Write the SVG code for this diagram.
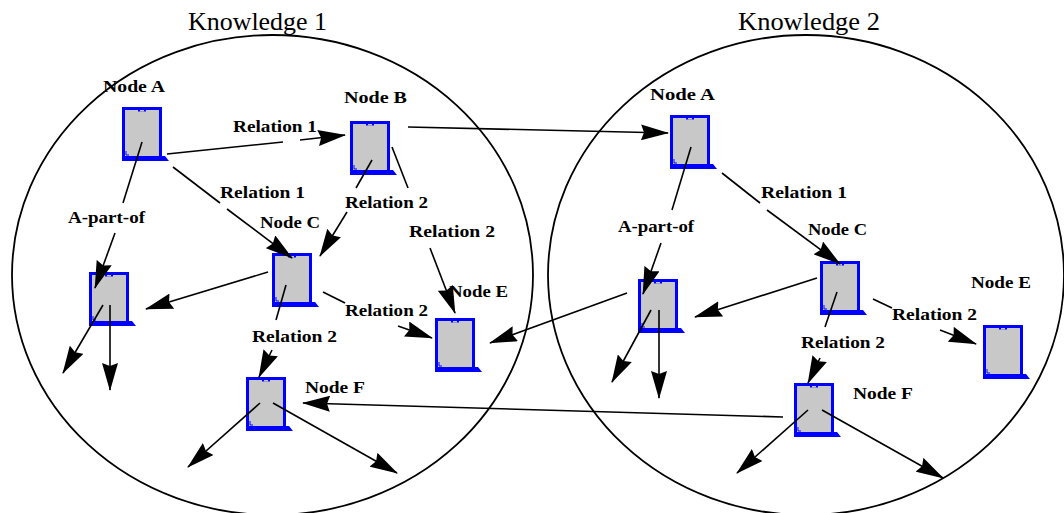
<svg xmlns="http://www.w3.org/2000/svg" xmlns:xlink="http://www.w3.org/1999/xlink" width="1064" height="513" viewBox="0 0 1064 513">
<style>
.bg{fill:#ffffff}
.circle{fill:none;stroke:#000;stroke-width:1.8}
.title{font-family:"Liberation Serif",serif;font-size:26px;fill:#000}
.lbl{font-family:"Liberation Serif",serif;font-size:17px;font-weight:bold;fill:#000}
.ln{fill:none;stroke:#000;stroke-width:1.6}
.ar{fill:none;stroke:#000;stroke-width:1.6;marker-end:url(#ah)}
</style>
<defs>
<marker id="ah" viewBox="0 0 28 16" markerUnits="userSpaceOnUse" markerWidth="28" markerHeight="16" refX="27" refY="8" orient="auto">
<path d="M0,0 L28,8 L0,16 L3,8 Z" fill="#000"/>
</marker>
<symbol id="icon" viewBox="0 0 48 56" width="48" height="56" overflow="visible">
<rect x="1.5" y="1.5" width="37" height="49" fill="#c8c8c8" stroke="#0000ff" stroke-width="3"/>
<rect x="16" y="1" width="8" height="3.5" fill="#0000ff"/>
<rect x="18" y="3" width="4" height="1.5" fill="#c8c8c8"/>
<path d="M0,49 L43,49 L47,54 L0,54 Z" fill="#0000ff"/>
<path d="M4,44 L4,48 L7,48" fill="none" stroke="#0000ff" stroke-width="1"/>
</symbol>
</defs>
<rect class="bg" x="0" y="0" width="1064" height="513"/>
<g id="knowledge1">
<ellipse class="circle" cx="272.5" cy="275" rx="260.5" ry="240"/>
<text class="title" x="188" y="30" textLength="139" lengthAdjust="spacingAndGlyphs">Knowledge 1</text>
</g>
<g id="knowledge2">
<ellipse class="circle" cx="806" cy="275" rx="258" ry="240"/>
<text class="title" x="738" y="30" textLength="142" lengthAdjust="spacingAndGlyphs">Knowledge 2</text>
</g>
<g id="k1-nodeA"><use xlink:href="#icon" x="122" y="107"/><text class="lbl" x="103" y="92" textLength="62" lengthAdjust="spacingAndGlyphs">Node A</text></g>
<g id="k1-nodeB"><use xlink:href="#icon" x="350" y="121"/><text class="lbl" x="344" y="103" textLength="63" lengthAdjust="spacingAndGlyphs">Node B</text></g>
<g id="k1-nodeC"><use xlink:href="#icon" x="272" y="253"/><text class="lbl" x="260" y="228" textLength="60" lengthAdjust="spacingAndGlyphs">Node C</text></g>
<g id="k1-nodeD"><use xlink:href="#icon" x="89" y="272"/></g>
<g id="k1-nodeE"><use xlink:href="#icon" x="435" y="318"/><text class="lbl" x="449" y="297" textLength="59" lengthAdjust="spacingAndGlyphs">Node E</text></g>
<g id="k1-nodeF"><use xlink:href="#icon" x="246" y="377"/><text class="lbl" x="305" y="393" textLength="60" lengthAdjust="spacingAndGlyphs">Node F</text></g>
<g id="k2-nodeA"><use xlink:href="#icon" x="670" y="115"/><text class="lbl" x="650" y="100" textLength="65" lengthAdjust="spacingAndGlyphs">Node A</text></g>
<g id="k2-nodeC"><use xlink:href="#icon" x="820" y="261"/><text class="lbl" x="808" y="235" textLength="59" lengthAdjust="spacingAndGlyphs">Node C</text></g>
<g id="k2-nodeD"><use xlink:href="#icon" x="638" y="279"/></g>
<g id="k2-nodeE"><use xlink:href="#icon" x="983" y="325"/><text class="lbl" x="971" y="288" textLength="60" lengthAdjust="spacingAndGlyphs">Node E</text></g>
<g id="k2-nodeF"><use xlink:href="#icon" x="794" y="383"/><text class="lbl" x="853" y="399" textLength="60" lengthAdjust="spacingAndGlyphs">Node F</text></g>
<g id="connectors">
<path class="ln" d="M167,154 L283,142"/><path class="ar" d="M300,140 L345,135"/>
<path class="ln" d="M173,167 L220,203"/><path class="ar" d="M227,209 L292,258"/>
<path class="ln" d="M142,142 L123,203"/><path class="ar" d="M115,233 L95,288"/>
<path class="ln" d="M372,160 L356,188"/><path class="ar" d="M347,212 L320,256"/>
<path class="ln" d="M392,147 L408,188"/><path class="ar" d="M430,248 L455,313"/>
<path class="ar" d="M268,272 L146,309"/>
<path class="ln" d="M323,292 L345,303"/><path class="ar" d="M398,326 L432,338"/>
<path class="ln" d="M286,285 L276,320"/><path class="ar" d="M272,350 L259,377"/>
<path class="ar" d="M103,305 L63,373"/>
<path class="ar" d="M110,305 L110,390"/>
<path class="ar" d="M260,403 L188,467"/>
<path class="ar" d="M273,403 L397,473"/>
<path class="ar" d="M408,127 L668,133"/>
<path class="ar" d="M627,293 L490,343"/>
<path class="ar" d="M783,417 L303,403"/>
<path class="ln" d="M722,173 L760,203"/><path class="ar" d="M767,210 L840,264"/>
<path class="ln" d="M691,147 L672,210"/><path class="ar" d="M661,243 L643,294"/>
<path class="ar" d="M817,278 L695,317"/>
<path class="ln" d="M873,299 L892,308"/><path class="ar" d="M940,330 L976,344"/>
<path class="ln" d="M837,292 L825,327"/><path class="ar" d="M820,358 L808,383"/>
<path class="ar" d="M651,310 L612,382"/>
<path class="ar" d="M659,310 L659,398"/>
<path class="ar" d="M808,410 L737,473"/>
<path class="ar" d="M822,410 L943,478"/>
</g>
<g id="edge-labels">
<text class="lbl" x="233" y="132" textLength="84" lengthAdjust="spacingAndGlyphs">Relation 1</text>
<text class="lbl" x="220" y="198" textLength="85" lengthAdjust="spacingAndGlyphs">Relation 1</text>
<text class="lbl" x="68" y="223" textLength="77" lengthAdjust="spacingAndGlyphs">A-part-of</text>
<text class="lbl" x="345" y="208" textLength="83" lengthAdjust="spacingAndGlyphs">Relation 2</text>
<text class="lbl" x="409" y="237" textLength="86" lengthAdjust="spacingAndGlyphs">Relation 2</text>
<text class="lbl" x="345" y="316" textLength="83" lengthAdjust="spacingAndGlyphs">Relation 2</text>
<text class="lbl" x="252" y="342" textLength="85" lengthAdjust="spacingAndGlyphs">Relation 2</text>
<text class="lbl" x="761" y="198" textLength="86" lengthAdjust="spacingAndGlyphs">Relation 1</text>
<text class="lbl" x="618" y="232" textLength="76" lengthAdjust="spacingAndGlyphs">A-part-of</text>
<text class="lbl" x="892" y="320" textLength="85" lengthAdjust="spacingAndGlyphs">Relation 2</text>
<text class="lbl" x="801" y="348" textLength="84" lengthAdjust="spacingAndGlyphs">Relation 2</text>
</g>
</svg>
